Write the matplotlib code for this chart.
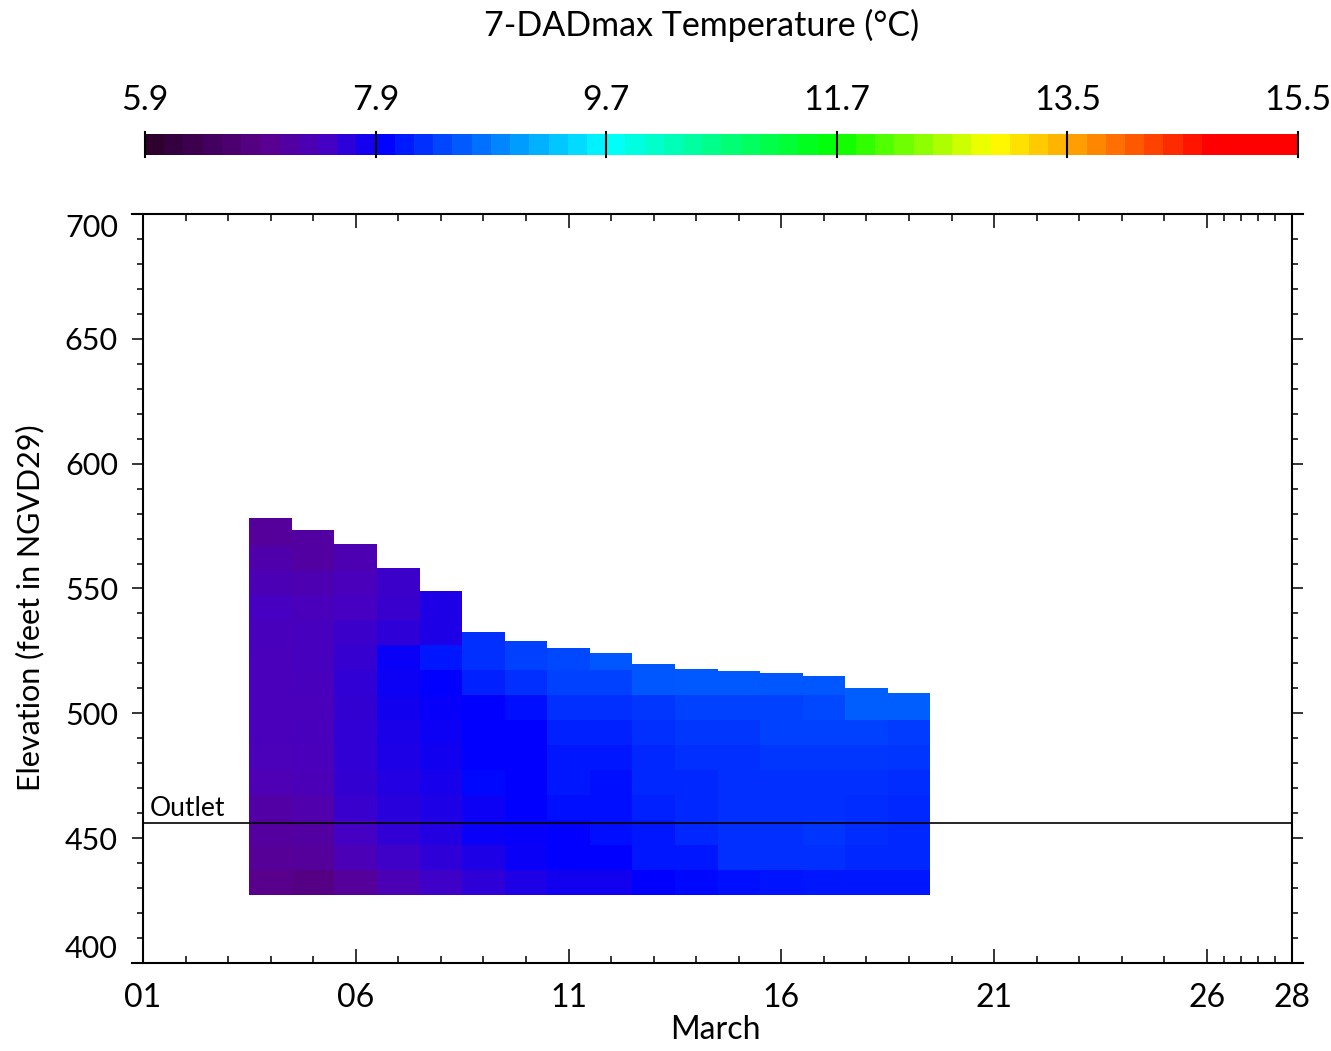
import numpy as np
import matplotlib
matplotlib.use('Agg')
import matplotlib.pyplot as plt
from matplotlib.colors import LinearSegmentedColormap, Normalize
from matplotlib.cm import ScalarMappable

plt.rcParams['font.family'] = ['Lato', 'DejaVu Sans']

W, H = 1331, 1051

# day of March for each profile column
days = [4, 5, 6, 7, 8, 9, 10, 11, 12, 13, 14, 15, 16, 17, 18, 19]
# water surface elevation (ft) for each day
surface_elev = [578.4, 573.6, 568.0, 558.4, 548.8, 532.4, 528.8, 526.0,
                524.0, 519.6, 517.6, 516.8, 516.0, 514.8, 510.0, 508.0]
layer_bottom = 427.2
layer_step = 10.0
outlet_elev = 456

# 7-DADmax temperature (deg C), bottom layer first, for each day
profiles = [
    [6.82, 6.95, 7.02, 7.10, 7.22, 7.28, 7.30, 7.30, 7.30, 7.30, 7.32, 7.36, 7.25, 7.12, 6.98],
    [6.75, 6.98, 7.05, 7.15, 7.26, 7.30, 7.32, 7.30, 7.32, 7.34, 7.34, 7.30, 7.20, 7.05],
    [6.98, 7.26, 7.38, 7.45, 7.48, 7.50, 7.50, 7.48, 7.50, 7.46, 7.42, 7.36, 7.30, 7.20],
    [7.24, 7.40, 7.50, 7.56, 7.60, 7.63, 7.66, 7.70, 7.74, 7.76, 7.52, 7.45, 7.42],
    [7.40, 7.52, 7.60, 7.64, 7.68, 7.70, 7.74, 7.78, 7.82, 8.00, 7.63, 7.63],
    [7.52, 7.63, 7.76, 7.74, 7.88, 7.82, 7.82, 7.82, 8.06, 8.18],
    [7.63, 7.76, 7.78, 7.82, 7.82, 7.82, 7.82, 7.94, 8.18, 8.30],
    [7.70, 7.82, 7.82, 7.94, 8.00, 8.00, 8.06, 8.18, 8.30, 8.36],
    [7.70, 7.82, 7.94, 7.94, 7.94, 8.00, 8.06, 8.18, 8.30, 8.48],
    [7.82, 8.00, 8.00, 8.06, 8.12, 8.12, 8.18, 8.24, 8.48],
    [7.88, 8.00, 8.12, 8.12, 8.12, 8.18, 8.24, 8.30, 8.50],
    [7.94, 8.18, 8.18, 8.18, 8.18, 8.18, 8.24, 8.30, 8.50],
    [7.97, 8.18, 8.18, 8.18, 8.18, 8.24, 8.30, 8.30, 8.48],
    [8.00, 8.18, 8.21, 8.18, 8.18, 8.24, 8.30, 8.36, 8.48],
    [8.00, 8.12, 8.15, 8.15, 8.18, 8.24, 8.30, 8.54],
    [8.00, 8.12, 8.12, 8.12, 8.15, 8.21, 8.27, 8.54],
]

vmin, vmax = 5.9, 15.5
cbar_labels = ['5.9', '7.9', '9.7', '11.7', '13.5', '15.5']

x_major = [1, 6, 11, 16, 21, 26, 28]
x_major_labels = ['01', '06', '11', '16', '21', '26', '28']

nodes = [(0.00, '#2e002e'), (0.10, '#5a0090'), (0.15, '#4800c0'), (0.20, '#0000ff'),
         (0.40, '#00ffff'), (0.60, '#00ff00'), (0.74, '#ffff00'), (0.80, '#ffb000'),
         (0.93, '#ff0000'), (1.00, '#ff0000')]
cmap = LinearSegmentedColormap.from_list('rainbow_blk', nodes, N=512)
cmap_bar = LinearSegmentedColormap.from_list('rainbow_blk_steps', nodes, N=60)
norm = Normalize(vmin, vmax)

fig = plt.figure(figsize=(W / 100, H / 100), dpi=100)
ax = fig.add_axes([132 / W, 1 - 963 / H, (1303 - 132) / W, (963 - 214) / H])

for d, top, vals in zip(days, surface_elev, profiles):
    edges = list(layer_bottom + layer_step * np.arange(len(vals))) + [top]
    ax.pcolormesh([d - 0.5, d + 0.5], edges, np.array(vals)[:, None],
                  cmap=cmap, norm=norm, shading='flat')

ax.hlines(outlet_elev, 1, 28, color='black', lw=1.2)
ax.text(1.17, outlet_elev + 0.8, 'Outlet', fontsize=19, va='bottom', ha='left')

ax.set_xlim(1 - 11 / 42.56, 28 + 11 / 42.56)
ax.set_ylim(400, 700)
ax.spines['left'].set_position(('data', 1))
ax.spines['right'].set_position(('data', 28))
for s in ax.spines.values():
    s.set_linewidth(1.5)

ax.set_xticks(x_major, labels=x_major_labels)
x_minor = [d for d in range(2, 26) if d not in x_major] + [26.4, 26.8, 27.2, 27.6]
ax.set_xticks(x_minor, minor=True)
ax.set_yticks(np.arange(400, 701, 50))
ax.set_yticks(np.arange(400, 701, 10), minor=True)

ax.tick_params(axis='x', which='both', direction='in', top=True, bottom=True, width=1.1)
ax.tick_params(axis='x', which='major', length=10, labelsize=23, pad=14.5)
ax.tick_params(axis='x', which='minor', length=5)
ax.tick_params(axis='y', which='both', direction='out', left=True, right=True, width=1.1)
ax.tick_params(axis='y', which='major', length=8, labelsize=22, pad=10)
ax.tick_params(axis='y', which='minor', length=4.3)
ylabels = ax.get_yticklabels()
ylabels[0].set_va('bottom')
ylabels[-1].set_va('top')

fig.text(715 / W, 1 - 1030 / H, 'March', fontsize=23, ha='center', va='center')
fig.text(30 / W, 1 - 608 / H, 'Elevation (feet in NGVD29)', fontsize=22,
         rotation=90, ha='center', va='center')

# colorbar on top
cax = fig.add_axes([145 / W, 1 - 155 / H, 1153 / W, 21 / H])
cb = fig.colorbar(ScalarMappable(norm=norm, cmap=cmap_bar), cax=cax, orientation='horizontal')
cb.outline.set_visible(False)
cticks = np.linspace(vmin, vmax, len(cbar_labels))
cax.xaxis.set_ticks_position('top')
cax.set_xticks(cticks, labels=cbar_labels)
cax.tick_params(axis='x', length=0, pad=13, labelsize=24.5)
for t in cticks:
    cax.plot([t, t], [-0.1, 1.1], color='black', lw=1.5,
             transform=cax.get_xaxis_transform(), clip_on=False)

fig.text(702 / W, 1 - 25 / H, '7-DADmax Temperature (°C)', fontsize=24.5,
         ha='center', va='center')

fig.savefig('out.png', dpi=100)
